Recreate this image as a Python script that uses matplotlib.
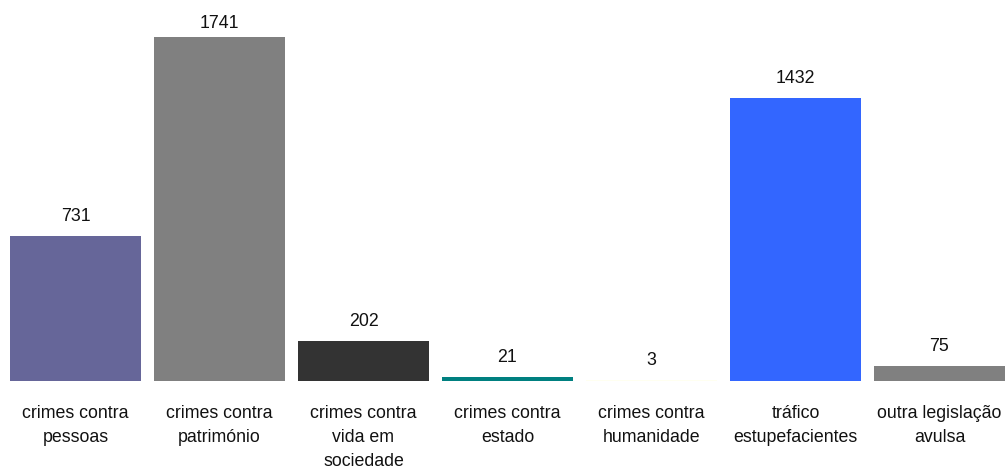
import matplotlib.pyplot as plt

categories = ['crimes contra\npessoas', 'crimes contra\npatrimónio',
              'crimes contra\nvida em\nsociedade', 'crimes contra\nestado',
              'crimes contra\nhumanidade', 'tráfico\nestupefacientes',
              'outra legislação\navulsa']
values = [731, 1741, 202, 21, 3, 1432, 75]
colors = ['#666699', '#808080', '#333333', '#008080', '#FFFFF0', '#3366FF', '#808080']

plt.rcParams['font.family'] = ['Liberation Sans', 'DejaVu Sans']

fig = plt.figure(figsize=(10.06, 4.70), dpi=100)
ax = fig.add_axes([0, 0, 1, 1])
x = range(len(values))
ax.bar(x, values, width=131 / 144, color=colors)

# pixel -> data scale: 1741 spans ~344 px
px = 1741 / 344.0
for i, v in enumerate(values):
    y = min(v + 15 * px, 1785)
    ax.text(i, y, str(v), ha='center', va='baseline', fontsize=12.8, color='#111111')
    ax.text(i, -24 * px, categories[i], ha='center', va='top', fontsize=12.8,
            color='#111111', linespacing=1.55)

ax.set_xlim(-75.5 / 144, (1006 - 75.5) / 144)
ax.set_ylim(-89.3 * px, 380.7 * px)
ax.axis('off')

fig.savefig('out.png', dpi=100)
